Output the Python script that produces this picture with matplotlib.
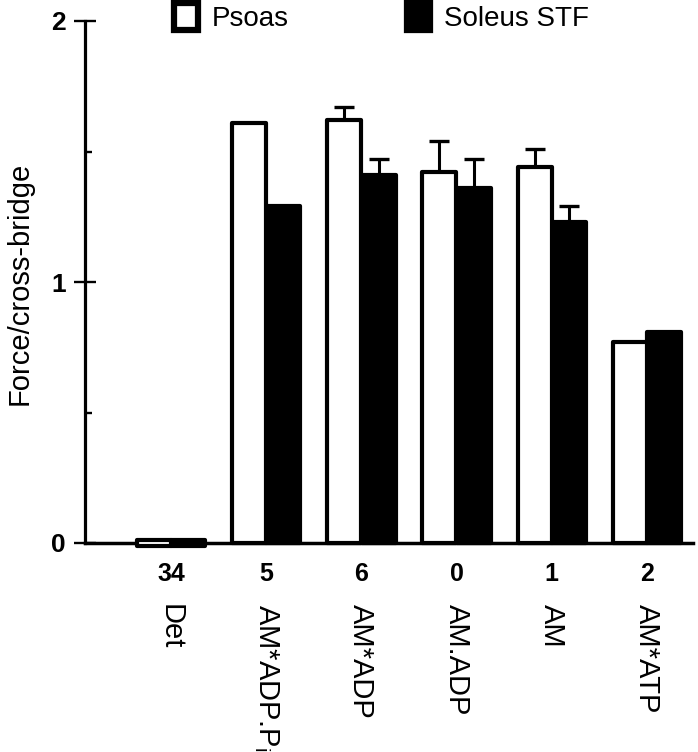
import numpy as np
import matplotlib
matplotlib.use("Agg")
import matplotlib.pyplot as plt
from matplotlib.patches import Patch

plt.rcParams['font.family'] = ['Liberation Sans', 'DejaVu Sans']
plt.rcParams['mathtext.fontset'] = 'custom'
plt.rcParams['mathtext.rm'] = 'Liberation Sans'
plt.rcParams['mathtext.it'] = 'Liberation Sans'

# ---- data ----
states = ["Det", r"AM*ADP.P$_\mathregular{i}$", "AM*ADP", "AM.ADP", "AM", "AM*ATP"]
state_ids = ["34", "5", "6", "0", "1", "2"]
psoas = np.array([0.0, 1.61, 1.62, 1.42, 1.44, 0.77])
psoas_err = np.array([0.0, 0.0, 0.05, 0.12, 0.07, 0.0])
soleus = np.array([0.0, 1.29, 1.41, 1.36, 1.23, 0.81])
soleus_err = np.array([0.0, 0.0, 0.06, 0.11, 0.06, 0.0])
series_names = ["Psoas", "Soleus STF"]
yticks_major = [0, 1, 2]
yticks_minor = [0.5, 1.5]

W, H = 698, 752
fig = plt.figure(figsize=(W / 100, H / 100), dpi=100)
ax = fig.add_axes([85 / W, 1 - 543 / H, 608 / W, 522 / H])

x = np.arange(len(states))
bw = 0.357
off = 0.18


def bar_geom(v):
    # zero-valued states are drawn as a thin box straddling the axis
    h = np.where(v == 0, 0.026, v)
    b = np.where(v == 0, -0.013, 0.0)
    return h, b


h1, b1 = bar_geom(psoas)
h2, b2 = bar_geom(soleus)
ax.bar(x - off, h1, bw, bottom=b1, facecolor='white', edgecolor='black',
       linewidth=3, clip_on=False, zorder=5, joinstyle='round')
ax.bar(x + off, h2, bw, bottom=b2, facecolor='black', edgecolor='black',
       linewidth=3, clip_on=False, zorder=4, joinstyle='round')

for xs, v, e in [(x - off, psoas, psoas_err), (x + off, soleus, soleus_err)]:
    m = e > 0
    ax.errorbar(xs[m], v[m], yerr=[np.zeros(m.sum()), e[m]], fmt='none',
                ecolor='black', elinewidth=2.2, capsize=7, capthick=2.4, zorder=1)

ax.set_xlim((85 - 171) / 95.2, (693 - 171) / 95.2)
ax.set_ylim(0, 2)

for s in ['top', 'right']:
    ax.spines[s].set_visible(False)
ax.spines['left'].set_linewidth(2.3)
ax.spines['bottom'].set_linewidth(2.5)
ax.spines['bottom'].set_zorder(3)

ax.set_yticks(yticks_major)
ax.set_yticklabels([str(t) for t in yticks_major], fontsize=19, fontweight='bold')
ax.set_yticks(yticks_minor, minor=True)
ax.tick_params(axis='y', which='major', direction='inout', length=16, width=1.7, pad=6)
ax.tick_params(axis='y', which='minor', direction='in', length=5, width=1.7)

ax.set_xticks(x)
ax.set_xticklabels(state_ids, fontsize=18, fontweight='bold')
ax.tick_params(axis='x', which='both', length=0, pad=14)

for i, name in enumerate(states):
    ax.annotate(name, xy=(i, 0), xycoords=('data', 'axes fraction'),
                xytext=(0, -44), textcoords='offset points',
                rotation=-90, ha='center', va='top', fontsize=21,
                rotation_mode='default')

fig.text(20 / W, 1 - 283 / H, "Force/cross-bridge", rotation=90,
         ha='center', va='center', fontsize=21)

handles = [Patch(facecolor='white', edgecolor='black', linewidth=4.5),
           Patch(facecolor='black', edgecolor='black', linewidth=4.5)]
fig.legend(handles, series_names, loc='upper left',
           bbox_to_anchor=(174 / W, 1 - 3 / H), ncol=2, frameon=False,
           fontsize=20, handlelength=0.85, handleheight=1.1,
           handletextpad=0.5, columnspacing=4.25, borderpad=0, borderaxespad=0)

fig.savefig("out.png", dpi=100)
